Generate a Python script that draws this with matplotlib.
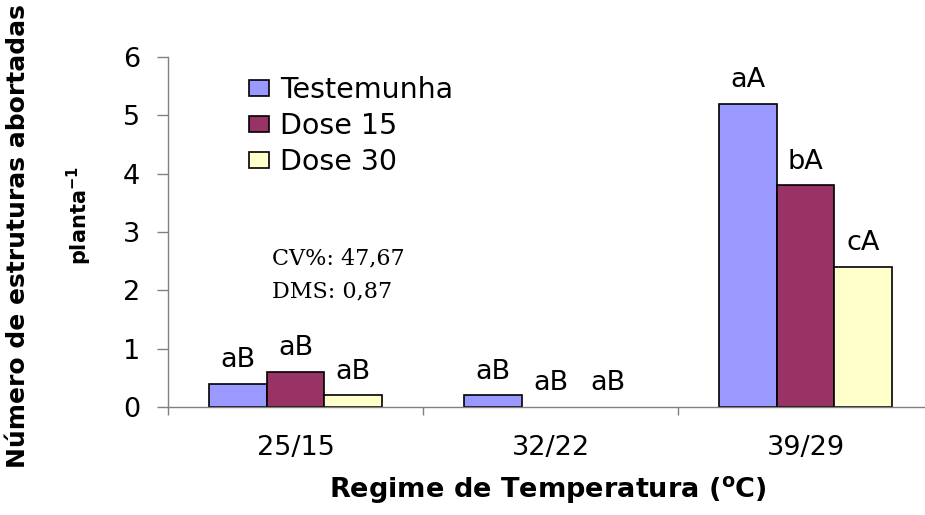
import numpy as np
import matplotlib
matplotlib.use("Agg")
import matplotlib.pyplot as plt

# Data
regimes = ["25/15", "32/22", "39/29"]
series_names = ["Testemunha", "Dose 15", "Dose 30"]
testemunha = [0.4, 0.2, 5.2]
dose15 = [0.6, 0.0, 3.8]
dose30 = [0.2, 0.0, 2.4]
letters_test = ["aB", "aB", "aA"]
letters_d15 = ["aB", "aB", "bA"]
letters_d30 = ["aB", "aB", "cA"]
stats_lines = ["CV%: 47,67", "DMS: 0,87"]

colors = ["#9999FF", "#993366", "#FFFFCC"]
values = [testemunha, dose15, dose30]
letters = [letters_test, letters_d15, letters_d30]

plt.rcParams["font.family"] = "DejaVu Sans"

W, H = 925, 515
fig = plt.figure(figsize=(W / 100, H / 100), dpi=100)

# axes placed in pixel terms: left spine x=168, zero y=407, 6 at y=57
ax = fig.add_axes([168 / W, (H - 407) / H, (W - 168) / W, 350 / H])

x = np.arange(len(regimes))
bw = 0.2255
for j, (name, vals, labs, col) in enumerate(zip(series_names, values, letters, colors)):
    pos = x + (j - 1) * bw
    # zero bars get no outline (nothing visible in the original)
    lw = [1.2 if v > 0 else 0 for v in vals]
    ax.bar(pos, vals, width=bw, color=col, edgecolor="black", linewidth=lw, label=name)
    for px, v, lab in zip(pos, vals, labs):
        ax.annotate(lab, (px, v), xytext=(0, 17), textcoords="offset points",
                    ha="center", va="center", fontsize=19.5)

ax.set_ylim(0, 6)
ax.set_xlim(-0.5, -0.5 + 757 / 255)

# spines
for s in ["top", "right"]:
    ax.spines[s].set_visible(False)
for s in ["left", "bottom"]:
    ax.spines[s].set_color("#808080")
    ax.spines[s].set_linewidth(1.0)

# y ticks
ax.set_yticks(range(0, 7))
ax.tick_params(axis="y", direction="out", length=8, width=1, color="#808080",
               pad=12, labelsize=19.5)

# x ticks: marks between categories, labels in the middle
ax.set_xticks([-0.5, 0.5, 1.5])
ax.set_xticklabels([])
ax.set_xticks(x, minor=True)
ax.set_xticklabels(regimes, minor=True)
ax.tick_params(axis="x", which="major", direction="out", length=6, width=1, color="#808080")
ax.tick_params(axis="x", which="minor", length=0, pad=20, labelsize=19.5)

# axis titles
fig.text(548 / W, 1 - 490 / H, r"Regime de Temperatura ($\mathbf{^o}$C)",
         ha="center", va="center", fontsize=19.5, fontweight="bold")
fig.text(18 / W, 1 - 236 / H, "Número de estruturas abortadas", rotation=90,
         ha="center", va="center", fontsize=18, fontweight="bold")
fig.text(79 / W, 1 - 216 / H, r"planta$^{\mathbf{-1}}$", rotation=90,
         ha="center", va="center", fontsize=15, fontweight="bold")

# legend
ax.legend(loc="upper left", bbox_to_anchor=(249 / W, 1 - 76 / H),
          bbox_transform=fig.transFigure, frameon=False, fontsize=20.5,
          borderpad=0, borderaxespad=0, handlelength=0.7, handleheight=0.5,
          handletextpad=0.4, labelspacing=0.28)

# statistics text
fig.text(272 / W, 1 - 258 / H, stats_lines[0], ha="left", va="center",
         fontsize=16, family="DejaVu Serif")
fig.text(272 / W, 1 - 291 / H, stats_lines[1], ha="left", va="center",
         fontsize=16, family="DejaVu Serif")

plt.savefig("out.png", dpi=100)
